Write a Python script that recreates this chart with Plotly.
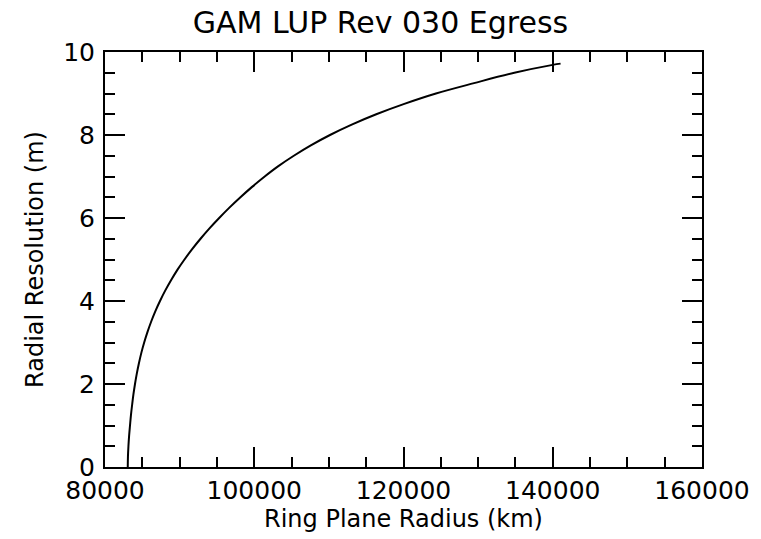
import plotly.graph_objects as go

# Ring plane radius (km) and radial resolution (m) along the egress track
radius_km = [83050, 83075, 83140, 83230, 83350, 83478, 83635, 83808, 84020,
             84261, 84545, 84869, 85250, 85687, 86180, 86739, 87370, 88066,
             88850, 89696, 90650, 91680, 92800, 94000, 95300, 96670, 98150,
             99710, 101400, 103230, 105300, 107580, 110150, 113060, 116350,
             120110, 124350, 129450, 134850, 140000, 141050]
resolution_m = [0.0, 0.25, 0.5, 0.75, 1.0, 1.25, 1.5, 1.75, 2.0,
                2.25, 2.5, 2.75, 3.0, 3.25, 3.5, 3.75, 4.0, 4.25,
                4.5, 4.75, 5.0, 5.25, 5.5, 5.75, 6.0, 6.25, 6.5,
                6.75, 7.0, 7.25, 7.5, 7.75, 8.0, 8.25, 8.5,
                8.75, 9.0, 9.25, 9.5, 9.69, 9.72]

x_ticks = [80000, 100000, 120000, 140000, 160000]
y_ticks = [0, 2, 4, 6, 8, 10]

font_family = "DejaVu Sans"

fig = go.Figure()
fig.add_trace(go.Scatter(
    x=radius_km, y=resolution_m, mode="lines",
    line=dict(color="black", width=2, shape="spline", smoothing=1.0),
    showlegend=False,
))

axis_common = dict(
    showline=True, linecolor="black", linewidth=2, mirror="ticks",
    ticks="inside", ticklen=20, tickwidth=2, tickcolor="black",
    showgrid=False, zeroline=False,
    tickfont=dict(family=font_family, size=25, color="black"),
    title_font=dict(family=font_family, size=24, color="black"),
)

fig.update_xaxes(
    range=[80000, 160000], tickvals=x_ticks, ticktext=[str(v) for v in x_ticks],
    minor=dict(dtick=5000, ticks="inside", ticklen=10, tickwidth=2, tickcolor="black"),
    title_text="Ring Plane Radius (km)", title_standoff=0,
    **axis_common,
)
fig.update_yaxes(
    range=[0, 10], tickvals=y_ticks, ticktext=[str(v) for v in y_ticks],
    minor=dict(dtick=0.5, ticks="inside", ticklen=10, tickwidth=2, tickcolor="black"),
    title_text="Radial Resolution (m)", title_standoff=13,
    ticklabelstandoff=3,
    **axis_common,
)

fig.update_layout(
    width=761, height=539,
    margin=dict(l=105, r=59, t=52, b=72),
    paper_bgcolor="white", plot_bgcolor="white",
    title=dict(text="GAM LUP Rev 030 Egress", x=0.5, xanchor="center",
               y=0.978, yanchor="top",
               font=dict(family=font_family, size=30, color="black")),
)

fig.write_html("out.html")
